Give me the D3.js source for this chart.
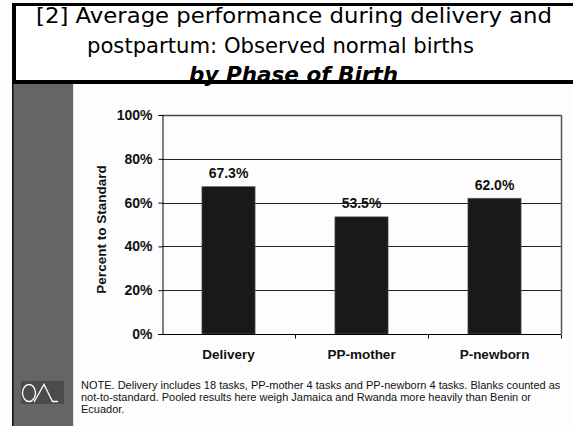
<!DOCTYPE html>
<html>
<head>
<meta charset="utf-8">
<script src="https://cdn.jsdelivr.net/npm/d3@7"></script>
<style>
  html, body { margin: 0; padding: 0; background: #fff; }
  svg { display: block; }
  .sans { font-family: "Liberation Sans", Arial, sans-serif; }
</style>
</head>
<body>
<div id="chart"></div>
<script>
// ── Data ──────────────────────────────────────────────────────────────────
const categories = ['Delivery', 'PP-mother', 'P-newborn'];
const values     = [0.673, 0.535, 0.620];
const yTicks     = [0, 0.2, 0.4, 0.6, 0.8, 1.0];
const titleLines = [
  '[2] Average performance during delivery and',
  'postpartum: Observed normal births',
  'by Phase of Birth',
];
const noteLines = [
  'NOTE. Delivery includes 18 tasks, PP-mother 4 tasks and PP-newborn 4 tasks. Blanks counted as',
  'not-to-standard. Pooled results here weigh Jamaica and Rwanda more heavily than Benin or',
  'Ecuador.',
];

const W = 573, H = 426;
const svg = d3.select('#chart').append('svg')
  .attr('width', W).attr('height', H)
  .attr('viewBox', `0 0 ${W} ${H}`);

// ── Slide frame ───────────────────────────────────────────────────────────
svg.append('rect').attr('x', 0).attr('y', 0).attr('width', W).attr('height', H).attr('fill', '#fdfdfd');
svg.append('rect').attr('x', 13).attr('y', 84).attr('width', 60).attr('height', H - 84).attr('fill', '#656565');
svg.append('rect').attr('x', 12).attr('y', 84).attr('width', 1.5).attr('height', H - 84).attr('fill', '#111');
svg.append('rect').attr('x', 73).attr('y', 84).attr('width', 1).attr('height', H - 84).attr('fill', '#e4e4e4');

// header box
svg.append('rect').attr('x', 14).attr('y', 4).attr('width', W).attr('height', 78).attr('fill', '#fff');

const titleSpecs = [
  { x0: 36, x1: 552, y: 23, weight: 'normal', style: 'normal' },
  { x0: 87, x1: 474, y: 53, weight: 'normal', style: 'normal' },
  { x0: 189, x1: 398, y: 82, weight: 'bold', style: 'italic' },
];
titleLines.forEach((t, i) => {
  const s = titleSpecs[i];
  svg.append('text')
    .attr('x', s.x0).attr('y', s.y)
    .attr('textLength', s.x1 - s.x0)
    .attr('lengthAdjust', 'spacingAndGlyphs')
    .attr('font-family', '"DejaVu Sans", sans-serif')
    .attr('font-size', 20.5)
    .attr('font-weight', s.weight)
    .attr('font-style', s.style)
    .attr('fill', '#000')
    .text(t);
});

svg.append('rect').attr('x', 12).attr('y', 3).attr('width', W).attr('height', 3).attr('fill', '#000');
svg.append('rect').attr('x', 12).attr('y', 3).attr('width', 4).attr('height', 81).attr('fill', '#000');
svg.append('rect').attr('x', 12).attr('y', 80).attr('width', W).attr('height', 4).attr('fill', '#000');

// QA logo
const logo = svg.append('g');
logo.append('rect').attr('x', 21).attr('y', 381).attr('width', 43).attr('height', 23).attr('fill', '#4b4b4b');
logo.append('ellipse').attr('cx', 29).attr('cy', 393).attr('rx', 6.5).attr('ry', 8.5)
  .attr('fill', 'none').attr('stroke', '#fff').attr('stroke-width', 1.3);
logo.append('path').attr('d', 'M34,402 L44,384.5 L52.5,401.5 L58,401.5')
  .attr('fill', 'none').attr('stroke', '#fff').attr('stroke-width', 1.3);

// ── Chart ─────────────────────────────────────────────────────────────────
const plot = { left: 162, right: 561, top: 115, bottom: 334 };

const x = d3.scaleBand()
  .domain(categories)
  .range([plot.left, plot.right])
  .paddingInner(0.6)
  .paddingOuter(0.3);

const y = d3.scaleLinear().domain([0, 1]).range([plot.bottom, plot.top]);

const g = svg.append('g').attr('class', 'sans');

// gridlines
g.append('g')
  .selectAll('line')
  .data(yTicks.filter(d => d > 0))
  .join('line')
  .attr('x1', plot.left).attr('x2', plot.right)
  .attr('y1', d => Math.round(y(d)) + 0.5).attr('y2', d => Math.round(y(d)) + 0.5)
  .attr('stroke', d => d === 1 ? '#4a4a4a' : '#222')
  .attr('stroke-width', d => d === 1 ? 1.5 : 1);

// right border
g.append('line')
  .attr('x1', plot.right + 0.5).attr('x2', plot.right + 0.5)
  .attr('y1', plot.top).attr('y2', plot.bottom)
  .attr('stroke', '#555').attr('stroke-width', 1.5);

// bars
g.append('g')
  .selectAll('rect')
  .data(values)
  .join('rect')
  .attr('x', (d, i) => x(categories[i]))
  .attr('y', d => y(d))
  .attr('width', x.bandwidth())
  .attr('height', d => y(0) - y(d))
  .attr('fill', '#191919')
  .attr('stroke', '#666')
  .attr('stroke-width', 0.6);

// value labels
g.append('g')
  .selectAll('text')
  .data(values)
  .join('text')
  .attr('x', (d, i) => x(categories[i]) + x.bandwidth() / 2)
  .attr('y', d => y(d) - 8.5)
  .attr('text-anchor', 'middle')
  .attr('font-size', 14)
  .attr('font-weight', 'bold')
  .attr('fill', '#111')
  .text(d => d3.format('.1%')(d));

// y axis
const yAxis = g.append('g')
  .attr('transform', `translate(${plot.left + 0.5},0)`)
  .call(d3.axisLeft(y).tickValues(yTicks).tickFormat(d3.format('.0%')).tickSize(4).tickPadding(6));
yAxis.select('.domain').attr('stroke', '#000');
yAxis.selectAll('.tick line').attr('stroke', '#000');
yAxis.selectAll('text')
  .attr('font-family', '"Liberation Sans", Arial, sans-serif')
  .attr('font-size', 14).attr('font-weight', 'bold').attr('fill', '#111');

// x axis
const xAxis = g.append('g')
  .attr('transform', `translate(0,${plot.bottom + 0.5})`)
  .call(d3.axisBottom(x).tickSize(0).tickPadding(15));
xAxis.select('.domain').attr('d', `M${plot.left - 4},0H${plot.right}`).attr('stroke', '#000');
xAxis.selectAll('text')
  .attr('font-family', '"Liberation Sans", Arial, sans-serif')
  .attr('font-size', 13.5).attr('font-weight', 'bold').attr('fill', '#111');

// x ticks between categories
xAxis.append('g')
  .selectAll('line')
  .data(categories.slice(1).concat(['end']))
  .join('line')
  .attr('x1', d => (d === 'end' ? plot.right : x(d) - x.step() * x.paddingInner() / 2) + 0.5)
  .attr('x2', d => (d === 'end' ? plot.right : x(d) - x.step() * x.paddingInner() / 2) + 0.5)
  .attr('y1', 0).attr('y2', 4)
  .attr('stroke', '#000');

// y title
g.append('text')
  .attr('transform', 'translate(106,229.5) rotate(-90)')
  .attr('text-anchor', 'middle')
  .attr('font-size', 13.5).attr('font-weight', 'bold').attr('fill', '#111')
  .text('Percent to Standard');

// note
g.append('g')
  .selectAll('text')
  .data(noteLines)
  .join('text')
  .attr('x', 81)
  .attr('y', (d, i) => 388.5 + i * 12)
  .attr('font-size', 11)
  .attr('fill', '#111')
  .text(d => d);
</script>
</body>
</html>
